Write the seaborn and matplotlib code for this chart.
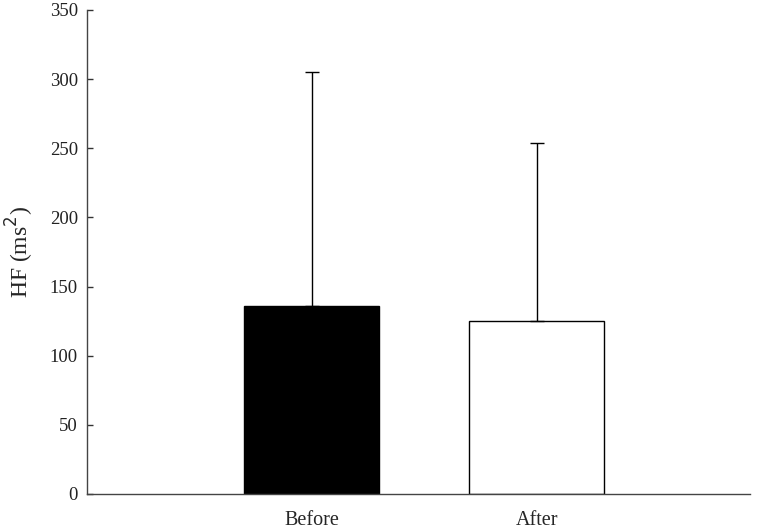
import matplotlib
matplotlib.use("Agg")
import matplotlib.pyplot as plt
import seaborn as sns
import pandas as pd
import numpy as np

categories = ["Before", "After"]
means = [136, 125]
upper_err = [169, 129]
colors = ["black", "white"]

sns.set_theme(style="ticks")
plt.rcParams["font.family"] = ["Liberation Serif", "DejaVu Serif"]

df = pd.DataFrame({"cond": categories, "HF": means})

fig = plt.figure(figsize=(7.68, 5.31), dpi=100)
ax = fig.add_axes([0.113, 0.0697, 0.864, 0.9115])

sns.barplot(data=df, x="cond", y="HF", hue="cond", palette=colors, legend=False,
            edgecolor="black", linewidth=1.0, width=0.6, ax=ax, errorbar=None)

ax.errorbar(np.arange(len(categories)), means, yerr=[np.zeros(len(means)), upper_err],
            fmt="none", ecolor="black", elinewidth=1.0, capsize=5, capthick=1.0)

ax.set_xlim(-1.0, 1.95)
ax.set_ylim(0, 350)
ax.set_yticks(np.arange(0, 351, 50))
ax.set_xlabel("")
ax.set_ylabel("HF (ms$^2$)", fontsize=17, labelpad=10)
ax.tick_params(axis="x", length=0, labelsize=14.5, pad=12)
ax.tick_params(axis="y", direction="in", length=4.5, pad=6.5, labelsize=13.5, width=1,
               colors="#333333", labelcolor="#222222")
for side in ["top", "right"]:
    ax.spines[side].set_visible(False)
for side in ["left", "bottom"]:
    ax.spines[side].set_linewidth(1.0)
    ax.spines[side].set_color("#444444")

fig.savefig("out.png", dpi=100)
